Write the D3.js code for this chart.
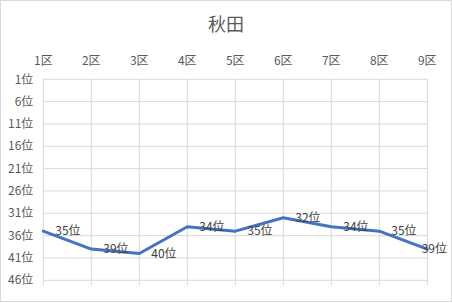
<!DOCTYPE html>
<html>
<head>
<meta charset="utf-8">
<script src="https://cdn.jsdelivr.net/npm/d3@7"></script>
<style>
  body { margin: 0; background: #fff; }
  text { font-family: "Noto Sans CJK JP", "Noto Sans", sans-serif; fill: #595959; }
</style>
</head>
<body>
<script>
var districts = ['1区', '2区', '3区', '4区', '5区', '6区', '7区', '8区', '9区'];
var ranks = [35, 39, 40, 34, 35, 32, 34, 35, 39];
var rankTicks = [1, 6, 11, 16, 21, 26, 31, 36, 41, 46];
var title = '秋田';

var W = 452, H = 303;
var margin = {top: 79.3, right: 24.7, bottom: 22.7, left: 43.3},
    width = W - margin.left - margin.right,
    height = H - margin.top - margin.bottom;

var svg = d3.select('body')
    .append('svg')
    .attr('width', W)
    .attr('height', H);

// chart border
svg.append('rect')
    .attr('x', 0.5).attr('y', 0.5)
    .attr('width', W - 1).attr('height', H - 2)
    .attr('fill', '#fff')
    .attr('stroke', '#d9d9d9');

svg.append('text')
    .attr('x', W / 2)
    .attr('y', 31)
    .attr('text-anchor', 'middle')
    .style('font-size', '18px')
    .text(title);

var g = svg.append('g')
    .attr('transform', 'translate(' + margin.left + ',' + margin.top + ')');

var xScale = d3.scalePoint()
    .domain(districts)
    .range([0, width]);

var yScale = d3.scaleLinear()
    .domain([1, 46])
    .range([0, height]);

// horizontal grid
g.selectAll('.hgrid')
    .data(rankTicks)
    .enter()
    .append('line')
    .attr('x1', 0).attr('x2', width)
    .attr('y1', function(d) { return yScale(d) })
    .attr('y2', function(d) { return yScale(d) })
    .style('stroke', '#d9d9d9');

// vertical grid (extends a bit below as tick marks)
g.selectAll('.vgrid')
    .data(districts)
    .enter()
    .append('line')
    .attr('x1', function(d) { return xScale(d) })
    .attr('x2', function(d) { return xScale(d) })
    .attr('y1', 0).attr('y2', height + 5)
    .style('stroke', '#d9d9d9');

// y labels
g.selectAll('.ylab')
    .data(rankTicks)
    .enter()
    .append('text')
    .attr('x', -10)
    .attr('y', function(d) { return yScale(d) })
    .attr('dy', '0.35em')
    .attr('text-anchor', 'end')
    .style('font-size', '12px')
    .text(function(d) { return d + '位' });

// x labels on top
g.selectAll('.xlab')
    .data(districts)
    .enter()
    .append('text')
    .attr('x', function(d) { return xScale(d) })
    .attr('y', -19)
    .attr('dy', '0.35em')
    .attr('text-anchor', 'middle')
    .style('font-size', '12px')
    .text(function(d) { return d });

var line = d3.line()
    .x(function(d, i) { return xScale(districts[i]) })
    .y(function(d) { return yScale(d) });

g.append('path')
    .datum(ranks)
    .attr('d', line)
    .attr('fill', 'none')
    .attr('stroke', '#4472c4')
    .attr('stroke-width', 3)
    .attr('stroke-linejoin', 'round')
    .attr('stroke-linecap', 'round');

// data labels to the right of points, kept inside the chart
var maxRight = W - 5 - margin.left;
g.selectAll('.dlab')
    .data(ranks)
    .enter()
    .append('text')
    .attr('y', function(d) { return yScale(d) })
    .attr('dy', '0.35em')
    .style('font-size', '12px')
    .style('fill', '#404040')
    .text(function(d) { return d + '位' })
    .attr('x', function(d, i) {
        var x = xScale(districts[i]) + 12;
        var w = this.getComputedTextLength();
        return Math.min(x, maxRight - w);
    });
</script>
</body>
</html>
